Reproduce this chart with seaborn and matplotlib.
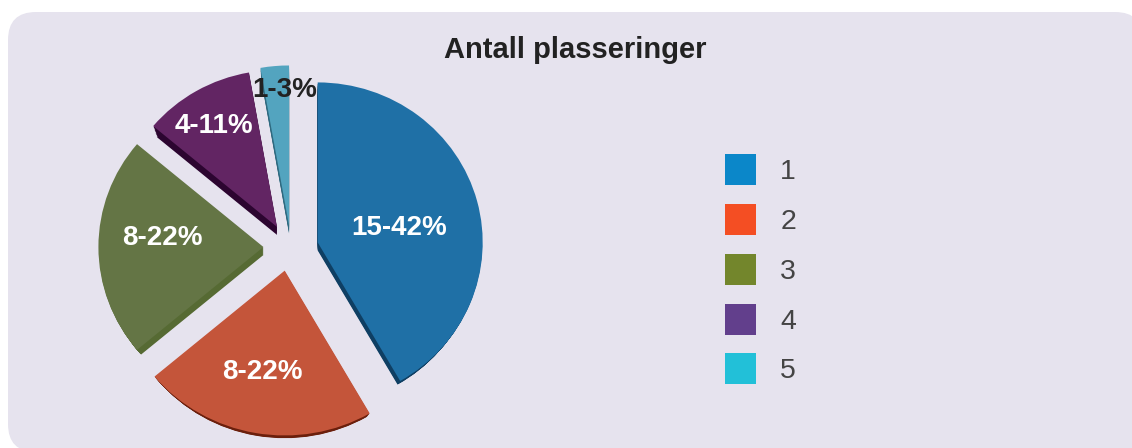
import matplotlib
matplotlib.use('Agg')
import matplotlib.pyplot as plt
from matplotlib.patches import FancyBboxPatch, Patch
import seaborn as sns

title = 'Antall plasseringer'
categories = ['1', '2', '3', '4', '5']
counts = [15, 8, 8, 4, 1]
labels = ['15-42%', '8-22%', '8-22%', '4-11%', '1-3%']

face_colors = sns.color_palette(['#1f70a6', '#c4553a', '#647545', '#622563', '#53a4bf'])
side_colors = sns.color_palette(['#0f3f63', '#6b1f0c', '#566a33', '#2c0530', '#2f6a80'])
legend_colors = sns.color_palette(['#0b87c9', '#f44e23', '#73862c', '#623f8c', '#22c0d8'])
label_colors = ['white', 'white', 'white', 'white', '#222222']

W, H = 1132, 448
sns.set_theme(style='white')
plt.rcParams['font.family'] = ['Liberation Sans', 'DejaVu Sans']

fig = plt.figure(figsize=(W / 100, H / 100), dpi=100, facecolor='white')

# rounded panel behind everything, in pixel coords
bg = fig.add_axes([0, 0, 1, 1], zorder=0)
bg.set_xlim(0, W)
bg.set_ylim(H, 0)
bg.axis('off')
bg.add_patch(FancyBboxPatch((8 + 28, 12 + 28), 1135 - 56, 440 - 56, boxstyle='round,pad=28,rounding_size=28',
                            fc='#e6e3ee', ec='none'))

# pie axes: centre at (289, 247), rx 165 px, ry 160 px
size = 1.4
ax = fig.add_axes([(289 - 165 * size) / W, 1 - (247 + 160 * size) / H, 330 * size / W, 320 * size / H], zorder=1)
explode = [0.18, 0.15, 0.155, 0.145, 0.135]
no_edge = {'linewidth': 0, 'edgecolor': 'none'}

# the original has some perspective, so each slice gets a small correction
radius_scale = [1, 1.03, 1, 0.98, 1]
nudge = [(0, -0.018), (0, 0), (0, 0), (0, 0), (0.012, 0)]


def draw_pie(colors, dy=0, radius=1):
    wedges, _ = ax.pie(counts, colors=colors, explode=explode, startangle=90, counterclock=False,
                       center=(0, dy), radius=radius, wedgeprops=no_edge)
    for w, s, (nx, ny) in zip(wedges, radius_scale, nudge):
        w.set_radius(w.r * s)
        w.set_center((w.center[0] + nx, w.center[1] + ny))


# stacked darker pies give the extruded side
for k in range(8, 0, -1):
    draw_pie(side_colors, dy=-k / 160, radius=1 - k * 0.004)
draw_pie(face_colors)
ax.set_aspect('auto')
ax.set_xlim(-size, size)
ax.set_ylim(-size, size)
ax.patch.set_alpha(0)

# texts have to sit on top of the pie
txt = fig.add_axes([0, 0, 1, 1], zorder=2)
txt.set_xlim(0, W)
txt.set_ylim(H, 0)
txt.axis('off')
label_xy = [(399, 228), (262, 372), (162, 238), (214, 126), (285, 90)]
for lab, (x, y), c in zip(labels, label_xy, label_colors):
    txt.text(x, y, lab, color=c, fontsize=20, fontweight='bold', ha='center', va='center')
txt.text(575, 50, title, color='#222222', fontsize=21, fontweight='bold', ha='center', va='center')

handles = [Patch(fc=c, ec='none', label=n) for c, n in zip(legend_colors, categories)]
leg = txt.legend(handles=handles, loc='upper left', bbox_to_anchor=(725 / W, 1 - 154 / H), frameon=False,
                 prop={'family': 'Liberation Sans', 'size': 20.5}, labelcolor='#444444',
                 handlelength=1.09, handleheight=1.3, handletextpad=0.85, labelspacing=0.66,
                 borderpad=0, borderaxespad=0)

fig.savefig('out.png', dpi=100)
